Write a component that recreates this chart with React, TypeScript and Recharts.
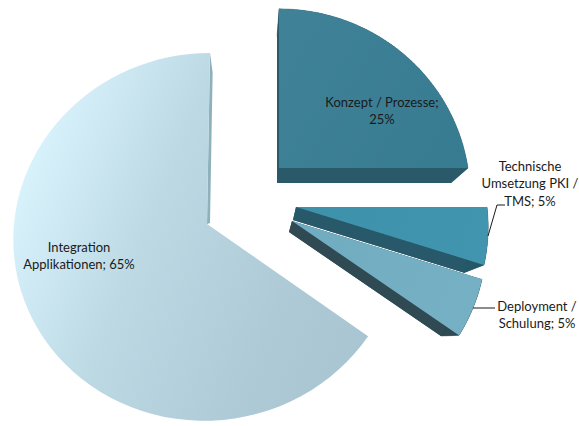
import React from "react";
import { PieChart, Pie } from "recharts";

// Share of effort per work package, in percent.
const categories = [
  "Konzept / Prozesse",
  "Technische Umsetzung PKI / TMS",
  "Deployment / Schulung",
  "Integration Applikationen",
];
const values = [25, 5, 5, 65];
const labelLines = [
  ["Konzept / Prozesse;", "25%"],
  ["Technische", "Umsetzung PKI /", "TMS; 5%"],
  ["Deployment /", "Schulung; 5%"],
  ["Integration", "Applikationen; 65%"],
];

const rows = categories.map((name, i) => ({ name, value: values[i] }));

// Each exploded wedge: apex, radii, perspective strength, and the offset/scale of its far face.
const wedges = [
  { x: 279, y: 168, rx: 189, ry: 183, k: 0.15, shear: 0, dx: -2, dy: 15, f: 0.92, fullSide: true },
  { x: 296, y: 207, rx: 191, ry: 181, k: 0.11, shear: 0, dx: -3, dy: 13, f: 0.91, fullSide: true },
  { x: 292, y: 221, rx: 193, ry: 182, k: 0.11, shear: 0, dx: -3, dy: 11, f: 0.91, fullSide: true },
  { x: 207, y: 224, rx: 193, ry: 183, k: 0.07, shear: -3, dx: 3, dy: -1, f: 0.88, fullSide: false },
];
const faceFills = ["url(#faceKonzept)", "url(#faceTechnik)", "url(#faceDeploy)", "url(#faceIntegration)"];
const sideFills = ["#2a5a6a", "#27596a", "#304a54", "#8fb1bc"];

const labelPlacement = [
  { x: 382, y: 102 },
  { x: 530, y: 166 },
  { x: 537, y: 306 },
  { x: 79, y: 247 },
];
const leaders = [
  null,
  "M488,236 L497,205 L505,205",
  "M473,308 L495,308",
  null,
];

type Pt = [number, number];
type Wedge = (typeof wedges)[number];

const project = (g: Wedge, deg: number): Pt => {
  const t = (deg * Math.PI) / 180;
  const cx = Math.cos(t);
  const cy = -Math.sin(t);
  const s = 1 / (1 - g.k * cy);
  return [g.x + g.rx * cx * s + g.shear * cy, g.y + g.ry * cy * s];
};
const toFar = (g: Wedge, p: Pt): Pt => [
  g.x + g.dx + g.f * (p[0] - g.x),
  g.y + g.dy + g.f * (p[1] - g.y),
];
const poly = (pts: Pt[]) =>
  "M" + pts.map((p) => `${p[0].toFixed(2)},${p[1].toFixed(2)}`).join(" L") + " Z";

// Draws one wedge as a perspective slab using the angles computed by the Pie.
const WedgeShape = (props: any) => {
  const { index, startAngle, endAngle } = props;
  const g = wedges[index];
  const steps = 72;
  const arc: Pt[] = [];
  for (let i = 0; i <= steps; i++) {
    arc.push(project(g, startAngle + ((endAngle - startAngle) * i) / steps));
  }
  const apex: Pt = [g.x, g.y];
  const farApex = toFar(g, apex);
  const farArc = arc.map((p) => toFar(g, p));
  const side = sideFills[index];
  const first = arc[0];
  const last = arc[arc.length - 1];
  const band = g.fullSide
    ? arc.slice(0, -1).map((p, i) => poly([p, arc[i + 1], farArc[i + 1], farArc[i]]))
    : [];
  return (
    <g>
      {g.fullSide && <path d={poly([farApex, ...farArc])} fill={side} />}
      {g.fullSide && <path d={poly([apex, first, toFar(g, first), farApex])} fill={side} />}
      <path d={poly([apex, last, toFar(g, last), farApex])} fill={side} />
      {band.map((d, i) => (
        <path key={i} d={d} fill={side} stroke={side} strokeWidth={0.4} />
      ))}
      <path d={poly([apex, ...arc])} fill={faceFills[index]} />
    </g>
  );
};

const renderLabel = (props: any) => {
  const { index } = props;
  const spot = labelPlacement[index];
  const leader = leaders[index];
  return (
    <g>
      {leader && <path d={leader} fill="none" stroke="#1a1a1a" strokeWidth={1} />}
      <text
        x={spot.x}
        y={spot.y}
        textAnchor="middle"
        fontFamily="Lato"
        fontSize={13}
        fill="#1a1a1a"
      >
        {labelLines[index].map((line, i) => (
          <tspan key={i} x={spot.x} dy={i === 0 ? 4.5 : 17.8}>
            {line}
          </tspan>
        ))}
      </text>
    </g>
  );
};

export default function App() {
  return (
    <div style={{ position: "absolute", left: 0, top: 0, width: 579, height: 426 }}>
      <PieChart width={579} height={426} margin={{ top: 0, right: 0, bottom: 0, left: 0 }}>
        <defs>
          <linearGradient id="faceKonzept" gradientUnits="userSpaceOnUse" x1="279" y1="60" x2="468" y2="170">
            <stop offset="0" stopColor="#3f8298" />
            <stop offset="1" stopColor="#377b91" />
          </linearGradient>
          <linearGradient id="faceTechnik" gradientUnits="userSpaceOnUse" x1="296" y1="207" x2="487" y2="260">
            <stop offset="0" stopColor="#3e91ab" />
            <stop offset="1" stopColor="#4195af" />
          </linearGradient>
          <linearGradient id="faceDeploy" gradientUnits="userSpaceOnUse" x1="292" y1="221" x2="482" y2="320">
            <stop offset="0" stopColor="#70acc1" />
            <stop offset="1" stopColor="#76b0c4" />
          </linearGradient>
          <linearGradient id="faceIntegration" gradientUnits="userSpaceOnUse" x1="20" y1="190" x2="370" y2="330">
            <stop offset="0" stopColor="#d8f2fc" />
            <stop offset="0.35" stopColor="#bcd9e4" />
            <stop offset="0.75" stopColor="#aecad6" />
            <stop offset="1" stopColor="#a9c5d1" />
          </linearGradient>
        </defs>
        <Pie
          data={rows}
          dataKey="value"
          nameKey="name"
          startAngle={90}
          endAngle={-270}
          outerRadius={190}
          stroke="none"
          isAnimationActive={false}
          shape={WedgeShape}
          inactiveShape={WedgeShape}
          activeShape={WedgeShape}
          label={renderLabel}
          labelLine={false}
        />
      </PieChart>
    </div>
  );
}
